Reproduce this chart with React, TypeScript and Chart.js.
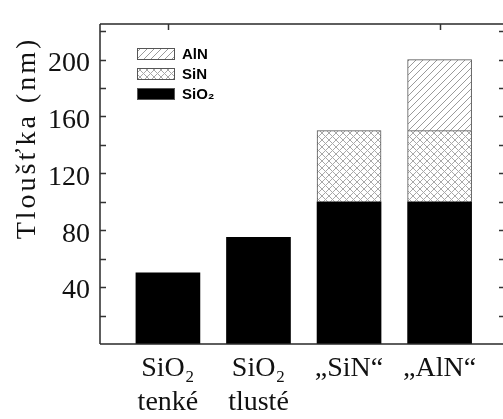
import React, { useEffect, useRef } from 'react';
import { Chart, registerables } from 'chart.js';

Chart.register(...registerables);

// ---- data ----
const categories: string[][] = [['SiO₂', 'tenké'], ['SiO₂', 'tlusté'], ['„SiN“'], ['„AlN“']];
const categoryPositions = [0, 1, 2, 3];
const sio2Values: (number | null)[] = [50, 75, 100, 100];
const sinValues: (number | null)[] = [null, null, 50, 50];
const alnValues: (number | null)[] = [null, null, null, 50];
const seriesLabels = ['SiO₂', 'SiN', 'AlN'];
const yTickStep = 20;
const yLabelStep = 40;
const yMin = 0;
const yMax = 225;
const xMin = -0.75;
const xMax = 3.7;
const yAxisTitle = 'Tloušťka (nm)';
const topTickPositions = [0, 3];

const SERIF = '"Liberation Serif", "Times New Roman", serif';
const SANS = '"Liberation Sans", Arial, sans-serif';

function makePattern(kind: 'diag' | 'cross'): CanvasPattern | string {
  const s = 7;
  const c = document.createElement('canvas');
  c.width = s;
  c.height = s;
  const g = c.getContext('2d');
  if (!g) return '#ccc';
  g.fillStyle = '#ffffff';
  g.fillRect(0, 0, s, s);
  g.strokeStyle = kind === 'diag' ? '#9a9a9a' : '#a8a8a8';
  g.lineWidth = 1;
  g.beginPath();
  g.moveTo(0, s);
  g.lineTo(s, 0);
  g.moveTo(-1, 1);
  g.lineTo(1, -1);
  g.moveTo(s - 1, s + 1);
  g.lineTo(s + 1, s - 1);
  if (kind === 'cross') {
    g.moveTo(0, 0);
    g.lineTo(s, s);
    g.moveTo(-1, s - 1);
    g.lineTo(1, s + 1);
    g.moveTo(s - 1, -1);
    g.lineTo(s + 1, 1);
  }
  g.stroke();
  return g.createPattern(c, 'repeat') || '#ccc';
}

function toPoints(values: (number | null)[]) {
  return categoryPositions
    .map((x, i) => ({ x, y: values[i] }))
    .filter((p) => p.y !== null) as { x: number; y: number }[];
}

const framePlugin = {
  id: 'framePlugin',
  afterDatasetsDraw(chart: any) {
    const { ctx, chartArea } = chart;
    const ys = chart.scales.y;
    const xs = chart.scales.x;
    const { left, right, top, bottom } = chartArea;
    ctx.save();
    ctx.strokeStyle = '#2a2a2a';
    ctx.lineWidth = 1.5;
    ctx.beginPath();
    ctx.moveTo(left, top);
    ctx.lineTo(left, bottom);
    ctx.moveTo(left, bottom);
    ctx.lineTo(right, bottom);
    ctx.moveTo(left, top);
    ctx.lineTo(right, top);
    ctx.stroke();
    // inward y ticks
    ctx.lineWidth = 1.5;
    ctx.strokeStyle = '#333';
    ctx.beginPath();
    for (let v = yMin + yTickStep; v < yMax; v += yTickStep) {
      const y = Math.round(ys.getPixelForValue(v)) + 0.5;
      ctx.moveTo(left, y);
      ctx.lineTo(left + 6, y);
      ctx.moveTo(right, y);
      ctx.lineTo(right - 4, y);
    }
    for (const p of topTickPositions) {
      const x = Math.round(xs.getPixelForValue(p)) + 0.5;
      ctx.moveTo(x, top);
      ctx.lineTo(x, top + 6);
    }
    ctx.stroke();
    // y axis title
    ctx.fillStyle = '#111';
    ctx.font = `28px ${SERIF}`;
    ctx.textAlign = 'center';
    ctx.textBaseline = 'middle';
    ctx.translate(28, 138);
    ctx.rotate(-Math.PI / 2);
    (ctx as any).letterSpacing = '3px';
    ctx.fillText(yAxisTitle, 0, 0);
    ctx.restore();
  },
};

const legendPlugin = {
  id: 'legendPlugin',
  afterDatasetsDraw(chart: any) {
    const { ctx } = chart;
    const ds = chart.data.datasets.slice().reverse();
    ctx.save();
    const boxX = 137;
    const boxW = 38;
    const boxH = 12;
    let y = 48;
    ds.forEach((d: any) => {
      ctx.fillStyle = d.backgroundColor;
      ctx.fillRect(boxX, y, boxW, boxH);
      ctx.strokeStyle = '#555';
      ctx.lineWidth = 1;
      ctx.strokeRect(boxX + 0.5, y + 0.5, boxW - 1, boxH - 1);
      ctx.fillStyle = '#000';
      ctx.font = `bold 15px ${SANS}`;
      ctx.textAlign = 'left';
      ctx.textBaseline = 'middle';
      ctx.fillText(d.label, boxX + boxW + 7, y + boxH / 2 + 1);
      y += 20;
    });
    ctx.restore();
  },
};

export default function App() {
  const ref = useRef<HTMLCanvasElement | null>(null);
  useEffect(() => {
    if (!ref.current) return;
    const crossPat = makePattern('cross');
    const diagPat = makePattern('diag');
    const chart = new Chart(ref.current, {
      type: 'bar',
      data: {
        datasets: [
          {
            label: seriesLabels[0],
            data: toPoints(sio2Values),
            backgroundColor: '#000000',
            borderWidth: 0,
            barThickness: 64,
          },
          {
            label: seriesLabels[1],
            data: toPoints(sinValues),
            backgroundColor: crossPat as any,
            borderColor: '#555555',
            borderWidth: 1,
            barThickness: 64,
          },
          {
            label: seriesLabels[2],
            data: toPoints(alnValues),
            backgroundColor: diagPat as any,
            borderColor: '#555555',
            borderWidth: 1,
            barThickness: 64,
          },
        ],
      } as any,
      options: {
        animation: false,
        responsive: true,
        maintainAspectRatio: false,
        layout: { padding: { top: 16, right: 0, bottom: 0, left: 0 } },
        plugins: { legend: { display: false }, tooltip: { enabled: false } },
        scales: {
          x: {
            type: 'linear',
            stacked: true,
            offset: false,
            min: xMin,
            max: xMax,
            afterFit: (s: any) => {
              s.height = 75;
            },
            grid: { display: false, drawTicks: false, offset: false },
            border: { display: false },
            ticks: {
              stepSize: 1,
              includeBounds: false,
              autoSkip: false,
              maxRotation: 0,
              minRotation: 0,
              padding: 8,
              color: '#111',
              font: { family: SERIF, size: 28, lineHeight: 1.2 },
              callback: (v: any) => {
                const n = Number(v);
                return Number.isInteger(n) && n >= 0 && n < categories.length ? categories[n] : '';
              },
            },
          },
          y: {
            type: 'linear',
            stacked: true,
            min: yMin,
            max: yMax,
            afterFit: (s: any) => {
              s.width = 100;
            },
            grid: { display: false, drawTicks: false },
            border: { display: false },
            ticks: {
              stepSize: yTickStep,
              includeBounds: false,
              autoSkip: false,
              padding: 10,
              labelOffset: 4,
              color: '#111',
              font: { family: SERIF, size: 28, lineHeight: 1 },
              callback: (v: any) => {
                const n = Number(v);
                return n !== 0 && n % yLabelStep === 0 ? String(n) : '';
              },
            },
          },
        },
      } as any,
      plugins: [framePlugin, legendPlugin],
    });
    return () => chart.destroy();
  }, []);
  return (
    <div style={{ position: 'absolute', left: 0, top: 0, width: 503, height: 419, background: '#fff' }}>
      <canvas ref={ref} />
    </div>
  );
}
